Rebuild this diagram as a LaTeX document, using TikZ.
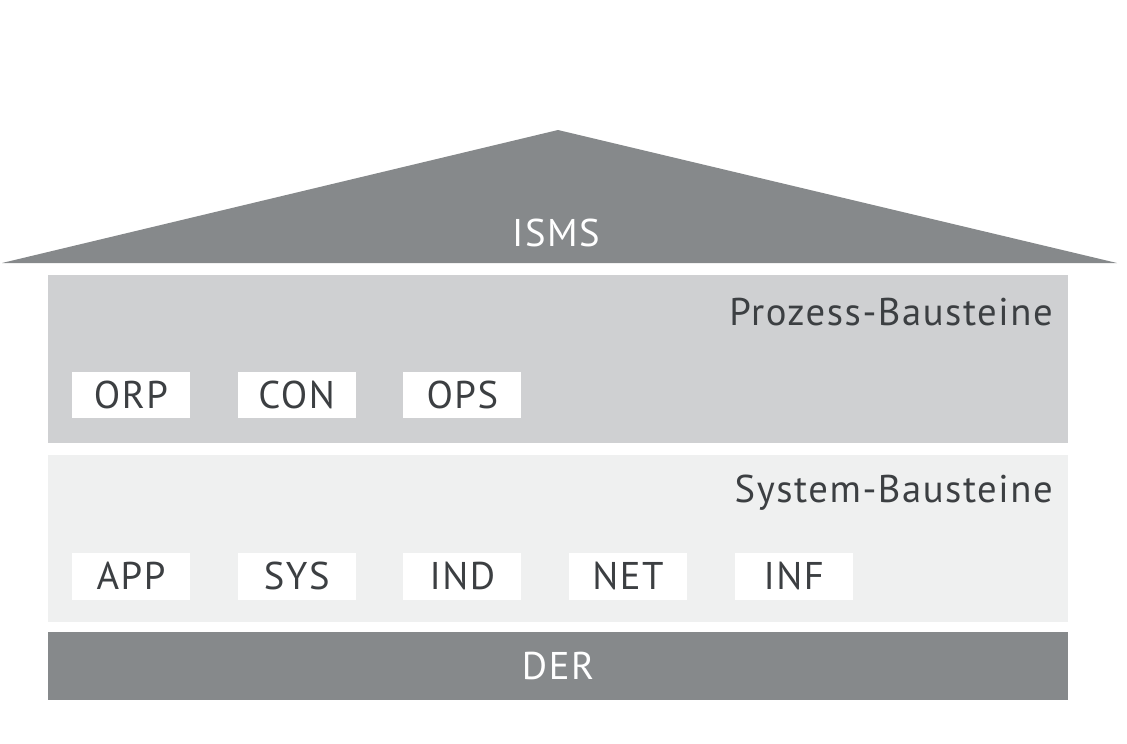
\documentclass[tikz,border=0pt]{standalone}
\usepackage{fontspec}
\setmainfont[LetterSpace=4]{PT Sans}
\usetikzlibrary{positioning}
\definecolor{dach}{HTML}{86898B}
\definecolor{prozess}{HTML}{CFD0D2}
\definecolor{system}{HTML}{EFF0F0}
\definecolor{schrift}{HTML}{3C3F42}
\tikzset{
    ebene/.style={
      rectangle,
      minimum width=20.4cm,
      inner sep=0pt},
    baustein/.style={
      rectangle,
      fill=white,
      text=schrift,
      minimum width=2.36cm,
      minimum height=0.94cm,
      inner sep=0pt,
      font=\fontsize{22}{25}\selectfont},
    titel/.style={
      text=schrift,
      inner sep=0pt,
      font=\fontsize{22}{25}\selectfont},
    weiss/.style={
      text=white,
      inner sep=0pt,
      font=\fontsize{22}{25}\selectfont}
}
\begin{document}
\begin{tikzpicture}[x=0.02cm, y=-0.02cm, node distance=0.94cm]
    \useasboundingbox (0,0) rectangle (1127,744);
    % Dach
    \fill [dach] (2,263) -- (558,130) -- (1117,263) -- cycle;
    \node (isms) [weiss] at (556,233) {ISMS};
    % Ebenen
    \node (prozess) [ebene, fill=prozess, minimum height=3.36cm] at (558,359) {};
    \node (system) [ebene, fill=system, minimum height=3.34cm] at (558,538.5) {};
    \node (der) [ebene, fill=dach, minimum height=1.36cm] at (558,666) {};
    \node [weiss] at (der) {DER};
    \node (ptitel) [titel, anchor=east] at (1053,312) {Prozess-Bausteine};
    \node (stitel) [titel, anchor=east] at (1053,493) {System-Bausteine};
    % Prozess-Bausteine
    \node (orp) [baustein] at (131,395) {ORP};
    \node (con) [baustein] [right=of orp] {CON};
    \node (ops) [baustein] [right=of con] {OPS};
    % System-Bausteine
    \node (app) [baustein] at (131,576) {APP};
    \node (sys) [baustein] [right=of app] {SYS};
    \node (ind) [baustein] [right=of sys] {IND};
    \node (net) [baustein] [right=of ind] {NET};
    \node (inf) [baustein] [right=of net] {INF};
\end{tikzpicture}
\end{document}
